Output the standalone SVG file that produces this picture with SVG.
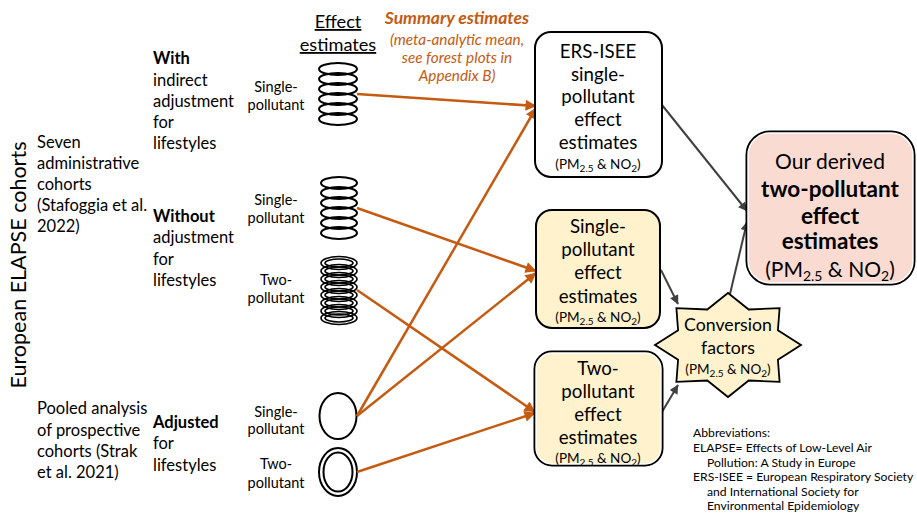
<svg xmlns="http://www.w3.org/2000/svg" width="917" height="521" viewBox="0 0 917 521">
<defs>
<style>
text{font-family:Lato,"Liberation Sans",sans-serif;fill:#000}
.l{font-size:16.5px}
.p{font-size:14.5px;text-anchor:middle}
.b{font-size:18.7px;text-anchor:middle}
.s{font-size:13.5px;text-anchor:middle}
.o{fill:#C55A11;font-style:italic;text-anchor:middle}
.ab{font-size:12.2px}
.ell{fill:none;stroke:#000;stroke-width:2}
.ell2{fill:none;stroke:#000;stroke-width:1.6}
.oa{stroke:#C55A11;stroke-width:2.5;fill:none;marker-end:url(#ao)}
.ga{stroke:#404040;stroke-width:2;fill:none;marker-end:url(#ag)}
</style>
<marker id="ao" viewBox="0 0 10 10" refX="9.5" refY="5" markerWidth="13" markerHeight="11" markerUnits="userSpaceOnUse" orient="auto"><path d="M0,0 L10,5 L0,10 z" fill="#C55A11"/></marker>
<marker id="ag" viewBox="0 0 10 10" refX="9.5" refY="5" markerWidth="11" markerHeight="9" markerUnits="userSpaceOnUse" orient="auto"><path d="M0,0 L10,5 L0,10 z" fill="#404040"/></marker>
</defs>
<rect width="917" height="521" fill="#fff"/>

<g id="left-labels">
<text transform="translate(26,265) rotate(-90)" font-size="21.5" text-anchor="middle">European ELAPSE cohorts</text>
<text class="l" x="37" y="148">Seven</text>
<text class="l" x="37" y="169">administrative</text>
<text class="l" x="37" y="190">cohorts</text>
<text class="l" x="37" y="211">(Stafoggia et al.</text>
<text class="l" x="37" y="232">2022)</text>
<text class="l" x="37" y="414">Pooled analysis</text>
<text class="l" x="37" y="436">of prospective</text>
<text class="l" x="37" y="457">cohorts (Strak</text>
<text class="l" x="37" y="478">et al. 2021)</text>
<text class="l" x="153" y="64" font-weight="bold">With</text>
<text class="l" x="153" y="86">indirect</text>
<text class="l" x="153" y="107">adjustment</text>
<text class="l" x="153" y="128">for</text>
<text class="l" x="153" y="149">lifestyles</text>
<text class="l" x="153" y="222" font-weight="bold">Without</text>
<text class="l" x="153" y="243">adjustment</text>
<text class="l" x="153" y="265">for</text>
<text class="l" x="153" y="286">lifestyles</text>
<text class="l" x="153" y="428" font-weight="bold">Adjusted</text>
<text class="l" x="153" y="449">for</text>
<text class="l" x="153" y="471">lifestyles</text>
<text class="p" x="276" y="92">Single-</text>
<text class="p" x="276" y="110">pollutant</text>
<text class="p" x="276" y="205">Single-</text>
<text class="p" x="276" y="223">pollutant</text>
<text class="p" x="276" y="285">Two-</text>
<text class="p" x="276" y="303">pollutant</text>
<text class="p" x="276" y="417">Single-</text>
<text class="p" x="276" y="434">pollutant</text>
<text class="p" x="276" y="469">Two-</text>
<text class="p" x="276" y="488">pollutant</text>
<text x="338" y="28" font-size="18.2" text-anchor="middle" text-decoration="underline">Effect</text>
<text x="338" y="51" font-size="18.2" text-anchor="middle" text-decoration="underline">estimates</text>
<text class="o" x="457" y="24" font-size="17.5" font-weight="bold">Summary estimates</text>
<text class="o" x="457" y="45" font-size="15.3">(meta-analytic mean,</text>
<text class="o" x="457" y="63" font-size="15.3">see forest plots in</text>
<text class="o" x="457" y="81" font-size="15.3">Appendix B)</text>
</g>

<g id="stack-with-single">
<ellipse class="ell" cx="338" cy="69" rx="19" ry="6"/>
<ellipse class="ell" cx="338" cy="79" rx="19" ry="6"/>
<ellipse class="ell" cx="338" cy="89" rx="19" ry="6"/>
<ellipse class="ell" cx="338" cy="99" rx="19" ry="6"/>
<ellipse class="ell" cx="338" cy="109" rx="19" ry="6"/>
<ellipse class="ell" cx="338" cy="119" rx="19" ry="6"/>
</g>
<g id="stack-without-single">
<ellipse class="ell" cx="339" cy="183" rx="18" ry="6"/>
<ellipse class="ell" cx="339" cy="193" rx="18" ry="6"/>
<ellipse class="ell" cx="339" cy="203" rx="18" ry="6"/>
<ellipse class="ell" cx="339" cy="213" rx="18" ry="6"/>
<ellipse class="ell" cx="339" cy="223" rx="18" ry="6"/>
<ellipse class="ell" cx="339" cy="233" rx="18" ry="6"/>
</g>
<g id="stack-without-two">
<ellipse class="ell2" cx="339" cy="263" rx="18" ry="6.5"/><ellipse class="ell2" cx="339" cy="263" rx="14" ry="4"/>
<ellipse class="ell2" cx="339" cy="271" rx="18" ry="6.5"/><ellipse class="ell2" cx="339" cy="271" rx="14" ry="4"/>
<ellipse class="ell2" cx="339" cy="279" rx="18" ry="6.5"/><ellipse class="ell2" cx="339" cy="279" rx="14" ry="4"/>
<ellipse class="ell2" cx="339" cy="287" rx="18" ry="6.5"/><ellipse class="ell2" cx="339" cy="287" rx="14" ry="4"/>
<ellipse class="ell2" cx="339" cy="295" rx="18" ry="6.5"/><ellipse class="ell2" cx="339" cy="295" rx="14" ry="4"/>
<ellipse class="ell2" cx="339" cy="303" rx="18" ry="6.5"/><ellipse class="ell2" cx="339" cy="303" rx="14" ry="4"/>
<ellipse class="ell2" cx="339" cy="311" rx="18" ry="6.5"/><ellipse class="ell2" cx="339" cy="311" rx="14" ry="4"/>
<ellipse class="ell2" cx="339" cy="318" rx="18" ry="6.5"/><ellipse class="ell2" cx="339" cy="318" rx="14" ry="4"/>
</g>
<g id="oval-adjusted-single">
<ellipse class="ell" cx="338" cy="416" rx="18.5" ry="23"/>
</g>
<g id="oval-adjusted-two">
<ellipse class="ell" cx="338" cy="472" rx="19" ry="24"/>
<ellipse class="ell" cx="338" cy="472" rx="14.5" ry="19.5"/>
</g>

<g id="connectors">
<line class="oa" x1="357" y1="94" x2="536" y2="106"/>
<line class="oa" x1="357" y1="416" x2="536" y2="108"/>
<line class="oa" x1="357" y1="208" x2="536" y2="271"/>
<line class="oa" x1="357" y1="416" x2="536" y2="273"/>
<line class="oa" x1="357" y1="290" x2="535" y2="412"/>
<line class="oa" x1="357" y1="472" x2="535" y2="413"/>
<line class="ga" x1="662" y1="105" x2="747" y2="211"/>
<line class="ga" x1="661" y1="270" x2="678" y2="304"/>
<line class="ga" x1="662" y1="412" x2="678" y2="385"/>
<line class="ga" x1="730" y1="294" x2="747" y2="222"/>
</g>

<g id="box-ers-isee">
<rect x="535" y="32" width="127" height="145" rx="16" fill="#fff" stroke="#000" stroke-width="2"/>
<text class="b" x="598" y="58">ERS-ISEE</text>
<text class="b" x="598" y="81">single-</text>
<text class="b" x="598" y="103">pollutant</text>
<text class="b" x="598" y="126">effect</text>
<text class="b" x="598" y="149">estimates</text>
<text class="s" x="598" y="169">(PM<tspan font-size="10" dy="3">2.5</tspan><tspan dy="-3"> &amp; NO</tspan><tspan font-size="10" dy="3">2</tspan><tspan dy="-3">)</tspan></text>
</g>

<g id="box-single">
<rect x="536" y="210" width="124" height="118" rx="16" fill="#FFF2CC" stroke="#000" stroke-width="2"/>
<text class="b" x="598" y="233">Single-</text>
<text class="b" x="598" y="256">pollutant</text>
<text class="b" x="598" y="279">effect</text>
<text class="b" x="598" y="303">estimates</text>
<text class="s" x="598" y="322">(PM<tspan font-size="10" dy="3">2.5</tspan><tspan dy="-3"> &amp; NO</tspan><tspan font-size="10" dy="3">2</tspan><tspan dy="-3">)</tspan></text>
</g>

<g id="box-two">
<rect x="536" y="353" width="125" height="111" rx="16" fill="#FFF2CC" stroke="#000" stroke-width="5"/>
<rect x="536" y="353" width="125" height="111" rx="16" fill="#FFF2CC" stroke="#fff" stroke-width="1.4"/>
<text class="b" x="598" y="375">Two-</text>
<text class="b" x="598" y="398">pollutant</text>
<text class="b" x="598" y="421">effect</text>
<text class="b" x="598" y="444">estimates</text>
<text class="s" x="598" y="463">(PM<tspan font-size="10" dy="3">2.5</tspan><tspan dy="-3"> &amp; NO</tspan><tspan font-size="10" dy="3">2</tspan><tspan dy="-3">)</tspan></text>
</g>

<g id="star-conversion">
<polygon points="801,345 777.9,330.3 779.6,308.2 748.7,309.5 728,293 707.3,309.5 676.4,308.2 678.1,330.3 655,345 678.1,359.7 676.4,381.8 707.3,380.5 728,397 748.7,380.5 779.6,381.8 777.9,359.7" fill="#FFF2CC" stroke="#000" stroke-width="1.8" stroke-linejoin="miter"/>
<text x="728" y="331" font-size="17.7" text-anchor="middle">Conversion</text>
<text x="728" y="354" font-size="17.7" text-anchor="middle">factors</text>
<text class="s" x="728" y="374">(PM<tspan font-size="10" dy="3">2.5</tspan><tspan dy="-3"> &amp; NO</tspan><tspan font-size="10" dy="3">2</tspan><tspan dy="-3">)</tspan></text>
</g>

<g id="box-derived">
<rect x="748" y="133" width="165" height="150" rx="22" fill="#FADBD2" stroke="#000" stroke-width="5"/>
<rect x="748" y="133" width="165" height="150" rx="22" fill="#FADBD2" stroke="#fff" stroke-width="1.4"/>
<text x="830" y="169" font-size="21" text-anchor="middle">Our derived</text>
<text x="830" y="197" font-size="22.5" font-weight="bold" text-anchor="middle">two-pollutant</text>
<text x="830" y="224" font-size="22.5" font-weight="bold" text-anchor="middle">effect</text>
<text x="830" y="249" font-size="22.5" font-weight="bold" text-anchor="middle">estimates</text>
<text x="830" y="277" font-size="21" text-anchor="middle">(PM<tspan font-size="14" dy="4">2.5</tspan><tspan dy="-4"> &amp; NO</tspan><tspan font-size="14" dy="4">2</tspan><tspan dy="-4">)</tspan></text>
</g>

<g id="abbreviations">
<text class="ab" x="693" y="437">Abbreviations:</text>
<text class="ab" x="693" y="452">ELAPSE= Effects of Low-Level Air</text>
<text class="ab" x="707" y="467">Pollution: A Study in Europe</text>
<text class="ab" x="693" y="481">ERS-ISEE = European Respiratory Society</text>
<text class="ab" x="707" y="496">and International Society for</text>
<text class="ab" x="707" y="510">Environmental Epidemiology</text>
</g>
</svg>
